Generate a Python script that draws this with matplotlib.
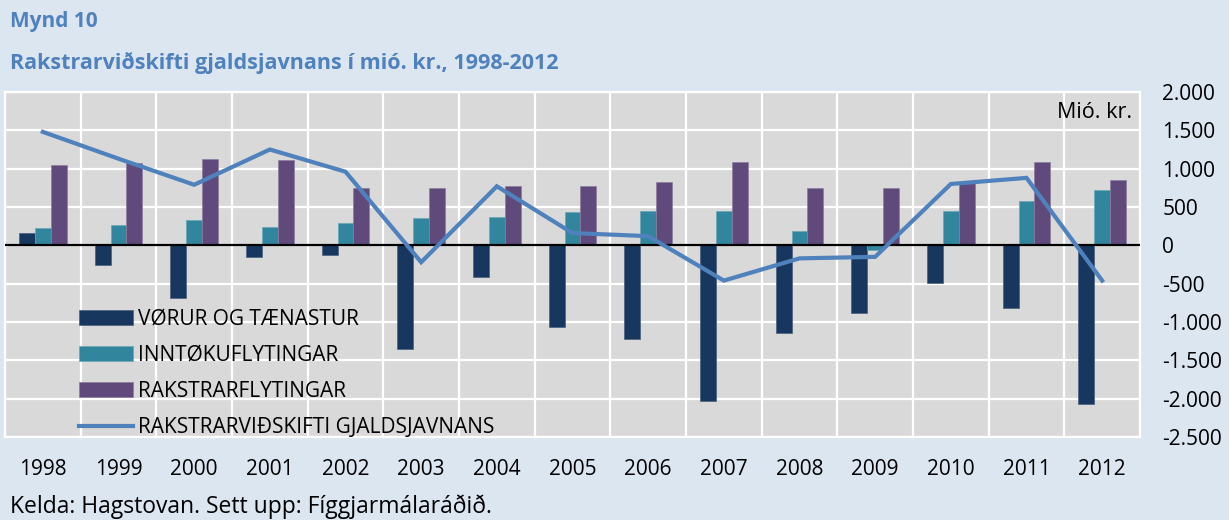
import matplotlib
matplotlib.use("Agg")
import matplotlib.pyplot as plt
import numpy as np
from matplotlib.ticker import FuncFormatter, FixedLocator

plt.rcParams['font.family'] = ['Open Sans', 'DejaVu Sans']

years = ["1998", "1999", "2000", "2001", "2002", "2003", "2004", "2005",
         "2006", "2007", "2008", "2009", "2010", "2011", "2012"]
vorur = [160, -250, -690, -150, -120, -1350, -410, -1060, -1220, -2030, -1140, -880, -490, -820, -2070]
inntoku = [220, 260, 325, 240, 290, 350, 370, 430, 450, 450, 190, -60, 450, 580, 720]
rakstrarflyt = [1050, 1080, 1130, 1110, 750, 750, 770, 770, 820, 1090, 750, 750, 810, 1090, 850]
gjaldsjavn = [1480, 1130, 790, 1250, 960, -220, 770, 160, 120, -460, -170, -150, 800, 880, -460]
labels = ["VØRUR OG TÆNASTUR", "INNTØKUFLYTINGAR", "RAKSTRARFLYTINGAR",
          "RAKSTRARVIÐSKIFTI GJALDSJAVNANS"]
yticks = [2000, 1500, 1000, 500, 0, -500, -1000, -1500, -2000, -2500]

c_dark = '#17375E'
c_teal = '#31859C'
c_purp = '#604A7B'
c_line = '#4F81BD'
bg_out = '#DCE6F1'
bg_plot = '#D9D9D9'
title_col = '#4F81BD'

W, H = 1229, 520
fig = plt.figure(figsize=(W / 100, H / 100), dpi=100, facecolor=bg_out)
ax = fig.add_axes([5 / W, 1 - 437 / H, (1140 - 5) / W, (437 - 92) / H])
ax.set_facecolor(bg_plot)

x = np.arange(len(years))
bw = 0.21
b1 = ax.bar(x - bw, vorur, bw, color=c_dark, edgecolor='#4a5f7e', linewidth=0.5, label=labels[0], zorder=3)
b2 = ax.bar(x, inntoku, bw, color=c_teal, edgecolor='#6aa6b8', linewidth=0.5, label=labels[1], zorder=3)
b3 = ax.bar(x + bw, rakstrarflyt, bw, color=c_purp, edgecolor='#8c7ca0', linewidth=0.5, label=labels[2], zorder=3)
l1, = ax.plot(x, gjaldsjavn, color=c_line, lw=3, label=labels[3], zorder=5, solid_joinstyle='miter')

ax.axhline(0, color='black', lw=1.6, zorder=4)

ax.set_xlim(-0.5, len(years) - 0.5)
ax.set_ylim(-2500, 2000)

ax.yaxis.tick_right()
ax.yaxis.set_major_locator(FixedLocator(yticks))
ax.yaxis.set_major_formatter(FuncFormatter(lambda v, p: f"{int(v):,}".replace(",", ".")))
ax.tick_params(axis='y', length=0, pad=16, labelsize=15, colors='black')

ax.set_xticks(x)
ax.set_xticklabels(years)
ax.tick_params(axis='x', length=0, pad=16, labelsize=15)
ax.set_xticks(np.arange(len(years) + 1) - 0.5, minor=True)
ax.tick_params(axis='x', which='minor', length=0)

ax.grid(True, axis='y', which='major', color='white', lw=1.6, zorder=1)
ax.grid(True, axis='x', which='minor', color='white', lw=1.6, zorder=1)
ax.grid(False, axis='x', which='major')
ax.set_axisbelow(True)
for s in ax.spines.values():
    s.set_color('white')
    s.set_linewidth(1.6)

ax.text(0.993, 0.94, "Mió. kr.", transform=ax.transAxes, ha='right', va='center', fontsize=15.5)

leg = ax.legend(handles=[b1, b2, b3, l1], labels=labels,
                loc='upper left', bbox_to_anchor=(74 / 1135, 1 - (309 - 92) / 345),
                frameon=False, fontsize=15, handlelength=2.6, handleheight=0.7,
                handletextpad=0.25, labelspacing=0.72, borderpad=0, borderaxespad=0)
leg.set_zorder(6)

fig.text(10 / W, 1 - 21 / H, "Mynd 10", color=title_col, fontsize=15, fontweight='bold',
         ha='left', va='center')
fig.text(10 / W, 1 - 63 / H, "Rakstrarviðskifti gjaldsjavnans í mió. kr., 1998-2012", color=title_col,
         fontsize=15.5, fontweight='bold', ha='left', va='center')
fig.text(10 / W, 1 - 507 / H, "Kelda: Hagstovan. Sett upp: Fíggjarmálaráðið.", fontsize=16.5,
         ha='left', va='center')

fig.savefig("out.png", dpi=100, facecolor=bg_out)
